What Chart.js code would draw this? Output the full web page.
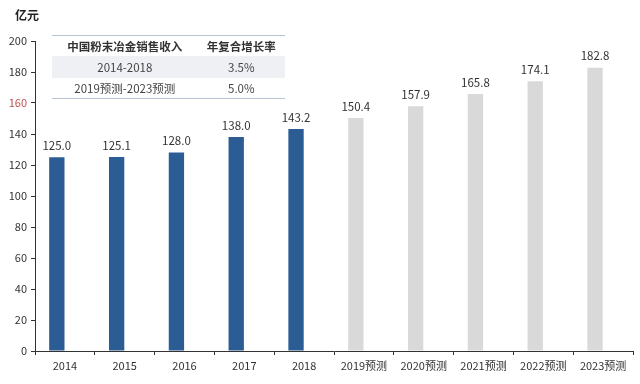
<!DOCTYPE html>
<html>
<head>
<meta charset="utf-8">
<script src="https://cdn.jsdelivr.net/npm/chart.js@4/dist/chart.umd.min.js"></script>
<style>
  html, body { margin: 0; padding: 0; background: #fff; }
  #wrap { position: relative; width: 640px; height: 384px; font-family: "Noto Sans CJK SC", "Noto Sans", sans-serif; }
  #unit { position: absolute; left: 15px; top: 6px; font-size: 12px; font-weight: bold; color: #222; }
  #cagr { position: absolute; left: 52px; top: 35px; width: 233px; border-collapse: collapse; font-size: 11.5px; color: #444; }
  #cagr th, #cagr td { text-align: center; padding: 0; }
  #cagr th { height: 20px; font-weight: bold; color: #333; border-top: 1.5px solid #b8c4d2; }
  #cagr tr.shade td { background: #eef0f4; height: 22px; }
  #cagr tr.last td { height: 20px; border-bottom: 1.5px solid #b8c4d2; }
</style>
</head>
<body>
<div id="wrap">
  <canvas id="revenueChart" width="640" height="384"></canvas>
  <div id="unit">亿元</div>
  <table id="cagr"></table>
</div>
<script>
// ----- Data -----
const years = ["2014", "2015", "2016", "2017", "2018",
  "2019预测", "2020预测", "2021预测", "2022预测", "2023预测"];
const actualRevenue = [125.0, 125.1, 128.0, 138.0, 143.2, null, null, null, null, null];
const forecastRevenue = [null, null, null, null, null, 150.4, 157.9, 165.8, 174.1, 182.8];
const yTicks = [0, 20, 40, 60, 80, 100, 120, 140, 160, 180, 200];

const tableHeader = ["中国粉末冶金销售收入", "年复合增长率"];
const tablePeriods = ["2014-2018", "2019预测-2023预测"];
const tableRates = ["3.5%", "5.0%"];

// ----- CAGR table -----
function buildTable() {
  const table = document.getElementById("cagr");
  let html = `<tr><th>${tableHeader[0]}</th><th>${tableHeader[1]}</th></tr>`;
  tablePeriods.forEach((p, i) => {
    const cls = i === 0 ? "shade" : "last";
    html += `<tr class="${cls}"><td>${p}</td><td>${tableRates[i]}</td></tr>`;
  });
  table.innerHTML = html;
}

// ----- Value labels above bars -----
const valueLabels = {
  id: "valueLabels",
  afterDatasetsDraw(chart) {
    const ctx = chart.ctx;
    ctx.save();
    ctx.font = "11.5px 'Noto Sans CJK SC', sans-serif";
    ctx.fillStyle = "#333";
    ctx.textAlign = "center";
    ctx.textBaseline = "bottom";
    [0, 1].forEach(di => {
      const meta = chart.getDatasetMeta(di);
      meta.data.forEach((bar, i) => {
        const v = chart.data.datasets[di].data[i];
        if (v == null) return;
        ctx.fillText(v.toFixed(1), bar.x, bar.y - 6);
      });
    });
    ctx.restore();
  }
};

document.addEventListener("DOMContentLoaded", () => {
  buildTable();
  const ctx = document.getElementById("revenueChart").getContext("2d");

  new Chart(ctx, {
    type: "bar",
    data: {
      labels: years,
      datasets: [
        { label: "实际", data: actualRevenue, backgroundColor: "#2b5d94", stack: "a" },
        { label: "预测", data: forecastRevenue, backgroundColor: "#d9d9d9", stack: "a" },
        // empty second group, keeps bars left of centre as in the source
        { label: "", data: [], stack: "b" }
      ]
    },
    options: {
      responsive: false,
      animation: false,
      categoryPercentage: 0.54,
      barPercentage: 0.95,
      layout: { padding: { top: 41, right: 7, left: 0, bottom: 0 } },
      plugins: { legend: { display: false }, tooltip: { enabled: false } },
      scales: {
        x: {
          stacked: true,
          grid: { drawOnChartArea: false, tickLength: 4, color: "#333" },
          border: { color: "#333", width: 1 },
          ticks: { color: "#333", font: { size: 11, family: "'Noto Sans CJK SC', sans-serif" }, padding: 4, maxRotation: 0 },
          afterFit: s => { s.height = 33; }
        },
        y: {
          min: 0,
          max: 200,
          afterBuildTicks: s => { s.ticks = yTicks.map(v => ({ value: v })); },
          grid: { drawOnChartArea: false, tickLength: 4, color: "#333" },
          border: { color: "#333", width: 1 },
          ticks: {
            color: c => (c.tick.value === 160 ? "#c0504d" : "#333"),
            font: { size: 11, family: "'Noto Sans CJK SC', sans-serif" },
            padding: 4
          },
          afterFit: s => { s.width = 35; }
        }
      }
    },
    plugins: [valueLabels]
  });
});
</script>
</body>
</html>
